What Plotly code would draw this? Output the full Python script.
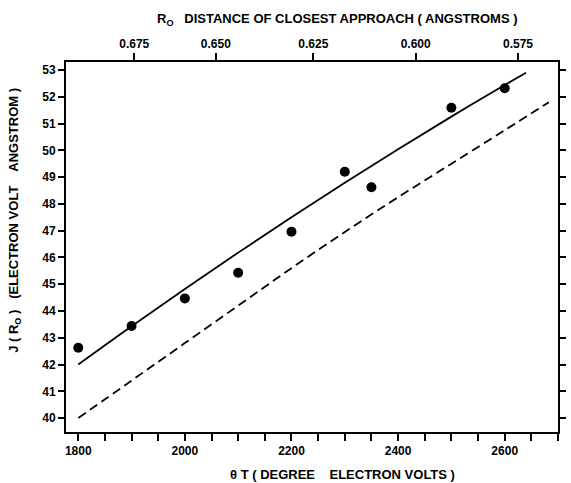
import plotly.graph_objects as go

# Observed data points
theta_obs = [1800, 1900, 2000, 2100, 2200, 2300, 2350, 2500, 2600]
j_obs = [42.63, 43.44, 44.47, 45.43, 46.96, 49.2, 48.62, 51.59, 52.32]

# Solid curve
theta_fit = [1800, 1900, 2000, 2100, 2200, 2300, 2400, 2500, 2600, 2640]
j_fit = [42.0, 43.43, 44.82, 46.18, 47.5, 48.79, 50.04, 51.26, 52.44, 52.9]

# Dashed curve
theta_dash = [1800, 1900, 2000, 2100, 2200, 2300, 2400, 2500, 2600, 2683]
j_dash = [40.0, 41.4, 42.8, 44.2, 45.6, 46.95, 48.25, 49.5, 50.75, 51.8]

# Top axis (R0) ticks: positions on the theta-T scale and labels
top_tick_theta = [1905, 2058, 2241, 2433, 2625]
top_tick_labels = ["0.675", "0.650", "0.625", "0.600", "0.575"]

FONT = "Liberation Sans"
XR = [1777, 2700]
YR = [39.48, 53.3]

fig = go.Figure()
fig.add_trace(go.Scatter(x=theta_dash, y=j_dash, mode="lines", line_shape="spline",
                         line=dict(color="black", width=1.8, dash="9px,5px"),
                         showlegend=False, hoverinfo="skip"))
fig.add_trace(go.Scatter(x=theta_fit, y=j_fit, mode="lines", line_shape="spline",
                         line=dict(color="black", width=1.8),
                         showlegend=False, hoverinfo="skip"))
fig.add_trace(go.Scatter(x=theta_obs, y=j_obs, mode="markers",
                         marker=dict(color="black", size=10),
                         showlegend=False))
fig.add_trace(go.Scatter(x=top_tick_theta, y=[None] * len(top_tick_theta), xaxis="x2",
                         mode="markers", showlegend=False, hoverinfo="skip"))

tickfont = dict(family=FONT, size=12, color="black", weight="bold")
titlefont = dict(family=FONT, size=13, color="black", weight="bold")

fig.update_layout(
    width=571, height=483,
    margin=dict(l=66, r=5, t=62, b=51),
    paper_bgcolor="white", plot_bgcolor="white",
    xaxis=dict(range=XR, tick0=1800, dtick=200, ticks="outside", ticklen=7,
               tickwidth=1.5, tickcolor="black", showline=True, linecolor="black",
               linewidth=1.8, showgrid=False, zeroline=False, tickfont=tickfont,
               minor=dict(tick0=1800, dtick=50, ticks="outside", ticklen=7,
                          tickwidth=1.5, tickcolor="black", showgrid=False)),
    xaxis2=dict(range=XR, overlaying="x", side="top", tickmode="array",
                tickvals=top_tick_theta, ticktext=top_tick_labels,
                ticks="outside", ticklen=7, tickwidth=1.5, tickcolor="black",
                showline=True, linecolor="black", linewidth=1.8, showgrid=False,
                zeroline=False, tickfont=tickfont),
    yaxis=dict(range=YR, tick0=40, dtick=1, ticks="outside", ticklen=6,
               tickwidth=1.5, tickcolor="black", showline=True, linecolor="black",
               linewidth=1.8, mirror="ticks", showgrid=False, zeroline=False,
               tickfont=tickfont),
    annotations=[
        dict(text="R<sub>O</sub>   DISTANCE OF CLOSEST APPROACH ( ANGSTROMS )",
             xref="paper", yref="paper", x=(342 - 66) / 500, y=1 + (62 - 19) / 370,
             xanchor="center", yanchor="middle", showarrow=False, font=titlefont),
        dict(text="θ T ( DEGREE    ELECTRON VOLTS )",
             xref="paper", yref="paper", x=(347 - 66) / 500, y=-(474 - 432) / 370,
             xanchor="center", yanchor="middle", showarrow=False, font=titlefont),
        dict(text="J ( R<sub>O</sub> )   (ELECTRON VOLT    ANGSTROM )",
             xref="paper", yref="paper", x=-(66 - 13) / 500, y=(432 - 220) / 370,
             xanchor="center", yanchor="middle", showarrow=False, textangle=-90,
             font=titlefont),
    ],
)

fig.write_html("out.html")
